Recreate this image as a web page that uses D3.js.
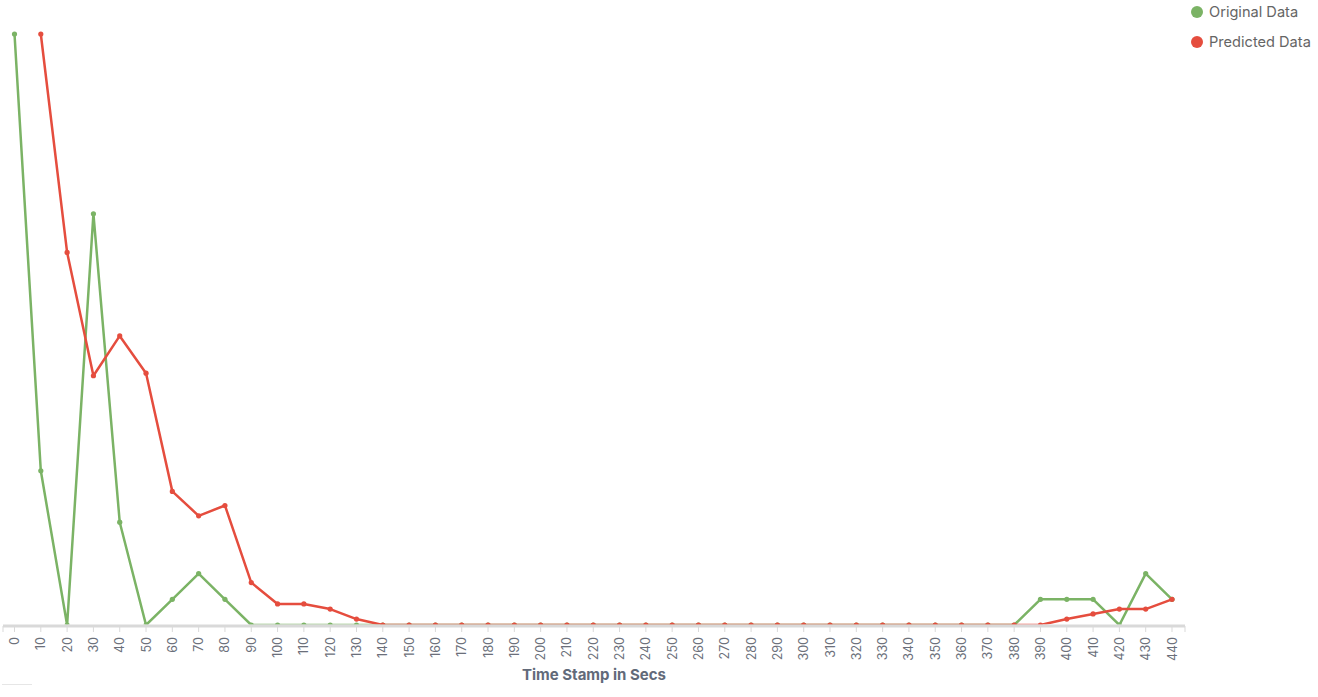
<!DOCTYPE html>
<html>
<head>
<meta charset="utf-8">
<script src="https://cdn.jsdelivr.net/npm/d3@7.9.0/dist/d3.min.js"></script>
<style>
  body { margin: 0; background: #fff; font-family: Inter, "Noto Sans", sans-serif; }
  svg { display: block; }
</style>
</head>
<body>
<svg width="1318" height="697"></svg>
<script>
const timeStamps = d3.range(0, 450, 10);

// original values, one per time stamp
const originalData = [23, 6, 0, 16, 4, 0, 1, 2, 1, 0,
  0, 0, 0, 0, 0, 0, 0, 0, 0, 0,
  0, 0, 0, 0, 0, 0, 0, 0, 0, 0,
  0, 0, 0, 0, 0, 0, 0, 0, 0, 1,
  1, 1, 0, 2, 1];

// predicted values start at 10 secs (null for 0)
const predictedData = [null, 23, 14.5, 9.7, 11.25, 9.8, 5.2, 4.25, 4.65, 1.65,
  0.82, 0.82, 0.62, 0.23, 0, 0, 0, 0, 0, 0,
  0, 0, 0, 0, 0, 0, 0, 0, 0, 0,
  0, 0, 0, 0, 0, 0, 0, 0, 0, 0,
  0.23, 0.43, 0.62, 0.62, 1.0];

const seriesNames = ['Original Data', 'Predicted Data'];
const seriesColors = ['#7bb365', '#e54d3e'];

const svg = d3.select('svg');
const x = d3.scalePoint().domain(timeStamps).range([14.5, 1172]);
const y = d3.scaleLinear().domain([0, 23]).range([625, 34]);

// plot area clip, so values at zero sit mostly hidden by the axis
svg.append('defs').append('clipPath').attr('id', 'plot')
  .append('rect').attr('x', 0).attr('y', 0).attr('width', 1190).attr('height', 624.5);

// series
const line = d3.line()
  .defined(d => d.v !== null)
  .x(d => x(d.t))
  .y(d => y(d.v));

const plot = svg.append('g').attr('clip-path', 'url(#plot)');
[originalData, predictedData].forEach((values, i) => {
  const pts = timeStamps.map((t, j) => ({ t, v: values[j] }));
  plot.append('path')
    .datum(pts)
    .attr('d', line)
    .attr('fill', 'none')
    .attr('stroke', seriesColors[i])
    .attr('stroke-width', 2.5)
    .attr('stroke-linejoin', 'round');
  plot.append('g').selectAll('circle')
    .data(pts.filter(d => d.v !== null))
    .join('circle')
    .attr('cx', d => x(d.t))
    .attr('cy', d => y(d.v))
    .attr('r', 2.6)
    .attr('fill', seriesColors[i]);
});

// axis
const axisG = svg.append('g');
axisG.append('line')
  .attr('x1', 3).attr('x2', 1185).attr('y1', 626).attr('y2', 626)
  .attr('stroke', '#d9d9d9').attr('stroke-width', 3);
const tickXs = [3].concat(timeStamps.map(d => x(d)), [1185]);
tickXs.forEach(tx => {
  axisG.append('line')
    .attr('x1', tx).attr('x2', tx).attr('y1', 626).attr('y2', 632)
    .attr('stroke', '#d9d9d9').attr('stroke-width', 1);
});
timeStamps.forEach(d => {
  axisG.append('text')
    .attr('transform', `translate(${x(d) + 4.5},637) rotate(-90)`)
    .attr('text-anchor', 'end')
    .attr('font-size', 12.5)
    .attr('fill', '#6b6f7a')
    .text(d);
});

svg.append('text')
  .attr('x', 594).attr('y', 680)
  .attr('text-anchor', 'middle')
  .attr('font-size', 15)
  .attr('font-weight', 'bold')
  .attr('fill', '#626a79')
  .text('Time Stamp in Secs');

svg.append('line')
  .attr('x1', 2).attr('x2', 32).attr('y1', 684.5).attr('y2', 684.5)
  .attr('stroke', '#e6e6e6').attr('stroke-width', 1);

// legend
seriesNames.forEach((name, i) => {
  const g = svg.append('g').attr('transform', `translate(1197,${12 + i * 30})`);
  g.append('circle').attr('r', 6).attr('fill', seriesColors[i]);
  g.append('text')
    .attr('x', 12).attr('y', 5)
    .attr('font-size', 14.6)
    .attr('fill', '#656565')
    .text(name);
});
</script>
</body>
</html>
